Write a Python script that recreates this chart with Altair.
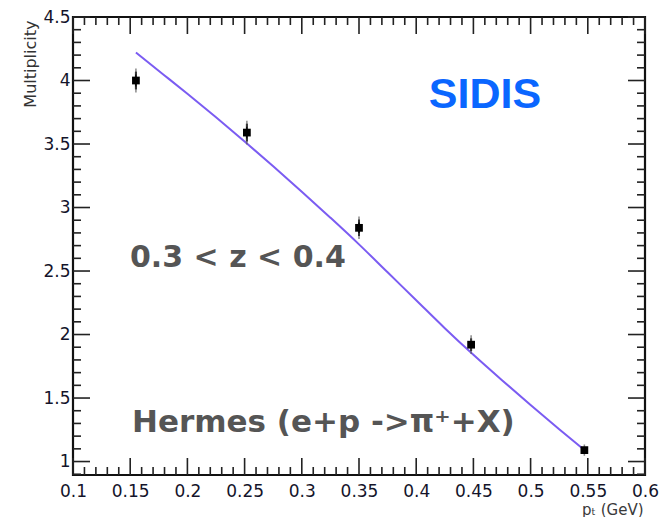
import altair as alt
import numpy as np
import pandas as pd

# HERMES pi+ multiplicity versus transverse momentum, 0.3 < z < 0.4
pt_points = [0.155, 0.252, 0.350, 0.448, 0.547]
mult_points = [4.00, 3.59, 2.84, 1.92, 1.09]
mult_errors = [0.07, 0.07, 0.065, 0.05, 0.02]

# model curve
pt_curve = [0.155, 0.18, 0.20, 0.225, 0.25, 0.275, 0.30, 0.325, 0.35,
            0.375, 0.40, 0.425, 0.45, 0.475, 0.50, 0.525, 0.547]
mult_curve = [4.22, 4.04, 3.895, 3.71, 3.52, 3.325, 3.125, 2.92, 2.71,
              2.49, 2.27, 2.05, 1.84, 1.64, 1.445, 1.255, 1.09]

# axis ticks
x_major = [0.1, 0.15, 0.2, 0.25, 0.3, 0.35, 0.4, 0.45, 0.5, 0.55, 0.6]
y_major = [1.0, 1.5, 2.0, 2.5, 3.0, 3.5, 4.0, 4.5]
x_domain = [0.1, 0.6]
y_domain = [0.894, 4.5]

W, H = 572, 458
MAJOR_LEN, MINOR_LEN = 17, 8

x_minor = [v for v in np.round(np.arange(0.1, 0.6001, 0.01), 3)
           if not np.isclose(v, x_major).any()]
y_minor = [v for v in np.round(np.arange(0.9, 4.5001, 0.1), 2)
           if not np.isclose(v, y_major).any()]

xs = alt.Scale(domain=x_domain, nice=False, zero=False)
ys = alt.Scale(domain=y_domain, nice=False, zero=False)

pts = pd.DataFrame({
    "pt": pt_points,
    "m": mult_points,
    "lo": [m - e for m, e in zip(mult_points, mult_errors)],
    "hi": [m + e for m, e in zip(mult_points, mult_errors)],
})
curve = pd.DataFrame({"pt": pt_curve, "m": mult_curve})

x_axis = alt.Axis(
    values=x_major, format=".2~f", domain=False, ticks=False, grid=False,
    labelFont="DejaVu Sans", labelFontSize=17, labelColor="#14142a",
    labelPadding=8, labelFlush=False, labelOverlap=False,
    title="pₜ (GeV)", titleFont="DejaVu Sans", titleFontSize=15,
    titleFontWeight="normal", titleColor="#3a3a3a",
    titleAnchor="end", titleAlign="right", titleX=W - 2, titleY=39,
    titleBaseline="alphabetic",
)
y_axis = alt.Axis(
    values=y_major, format="~g", domain=False, ticks=False, grid=False,
    labelFont="DejaVu Sans", labelFontSize=17, labelColor="#14142a",
    labelPadding=3, labelFlush=False, labelOverlap=False,
    title="Multiplicity", titleFont="DejaVu Sans", titleFontSize=16,
    titleFontWeight="normal", titleColor="#333333", titleAngle=-90,
    titleAlign="right", titleX=-38, titleY=3, titleBaseline="alphabetic",
)


def X(field):
    return alt.X(field, scale=xs, axis=x_axis)


def Y(field):
    return alt.Y(field, scale=ys, axis=y_axis)


line = alt.Chart(curve).mark_line(
    color="#7b5cf2", strokeWidth=2, interpolate="monotone"
).encode(x=X("pt:Q"), y=Y("m:Q"))

errbars = alt.Chart(pts).mark_rule(color="#111111", strokeWidth=2).encode(
    x=X("pt:Q"), y=Y("lo:Q"), y2="hi:Q",
)
caps_lo = alt.Chart(pts).mark_tick(color="#555555", thickness=1.5, size=6).encode(
    x=X("pt:Q"), y=Y("lo:Q"),
)
caps_hi = alt.Chart(pts).mark_tick(color="#555555", thickness=1.5, size=6).encode(
    x=X("pt:Q"), y=Y("hi:Q"),
)
markers = alt.Chart(pts).mark_square(color="#000000", size=60, opacity=1).encode(
    x=X("pt:Q"), y=Y("m:Q"),
)


def x_ticks(values, length):
    df = pd.DataFrame({"pt": values})
    bottom = alt.Chart(df).mark_rule(color="#222222", strokeWidth=1.6).encode(
        x=X("pt:Q"), y=alt.value(H), y2=alt.value(H - length))
    top = alt.Chart(df).mark_rule(color="#222222", strokeWidth=1.6).encode(
        x=X("pt:Q"), y=alt.value(0), y2=alt.value(length))
    return [bottom, top]


def y_ticks(values, length):
    df = pd.DataFrame({"m": values})
    left = alt.Chart(df).mark_rule(color="#222222", strokeWidth=1.6).encode(
        y=Y("m:Q"), x=alt.value(0), x2=alt.value(length))
    right = alt.Chart(df).mark_rule(color="#222222", strokeWidth=1.6).encode(
        y=Y("m:Q"), x=alt.value(W - length), x2=alt.value(W))
    return [left, right]


tick_layers = (x_ticks(x_major, MAJOR_LEN) + x_ticks(x_minor, MINOR_LEN)
               + y_ticks(y_major, MAJOR_LEN) + y_ticks(y_minor, MINOR_LEN))


def label(text, x, y, size, color, font, align="left"):
    return alt.Chart(pd.DataFrame({"t": [text]})).mark_text(
        font=font, fontSize=size, fontWeight="bold", color=color,
        align=align, baseline="alphabetic",
    ).encode(x=alt.value(x), y=alt.value(y), text="t:N")


sidis = label("SIDIS", 412, 91, 43, "#0a66ff", "Liberation Sans", align="center")
zbin = label("0.3 < z < 0.4", 57, 250, 30, "#555555", "DejaVu Sans")
hermes = label("Hermes (e+p ->π⁺+X)", 59, 415, 31, "#555555", "DejaVu Sans")

chart = alt.layer(
    line, *tick_layers, errbars, caps_lo, caps_hi, markers, sidis, zbin, hermes
).properties(
    width=W, height=H,
    autosize=alt.AutoSizeParams(type="none"),
    padding={"left": 73, "top": 17, "right": 18, "bottom": 42},
    background="white",
).configure_view(stroke="#111111", strokeWidth=2.2)

chart.save("out.html", embed_options={"renderer": "svg", "actions": False})
